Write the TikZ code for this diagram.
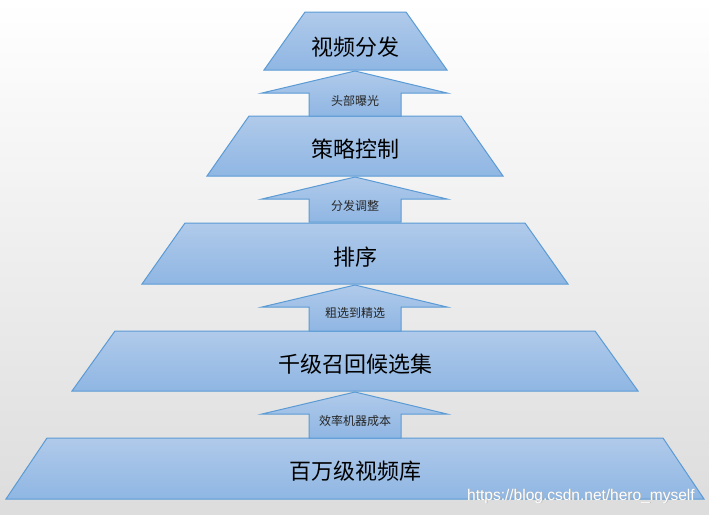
\documentclass[tikz,border=0pt]{standalone}
\usepackage{fontspec}
\newfontfamily\cjk{Noto Sans CJK SC}
\newfontfamily\wmfont{Liberation Sans}
\definecolor{fillTop}{RGB}{176,202,234}
\definecolor{fillBot}{RGB}{143,182,227}
\definecolor{edge}{RGB}{91,155,213}
\begin{document}
\begin{tikzpicture}[x=1pt,y=-1pt,
  shapebox/.style={draw=edge, line width=1pt, line join=miter, top color=fillTop, bottom color=fillBot},
  bigtext/.style={font=\cjk\fontsize{22}{26}\selectfont, text=black, inner sep=0pt},
  smalltext/.style={font=\cjk\fontsize{12}{14}\selectfont, text=black!85, inner sep=0pt},
  wmtext/.style={font=\wmfont\fontsize{15.5}{17}\selectfont, anchor=base west, inner sep=0pt, xscale=1.0}]
\shade[top color=white, bottom color=gray!27] (0,0) rectangle (709,514);
\useasboundingbox (0,0) rectangle (709,514);
% tiers
\path[shapebox] (305,12) -- (406,12) -- (447,70) -- (264,70) -- cycle;
\path[shapebox] (249,116) -- (461,116) -- (503,176) -- (207,176) -- cycle;
\path[shapebox] (185,223) -- (525,223) -- (568,284) -- (142,284) -- cycle;
\path[shapebox] (115,331) -- (595,331) -- (638,391) -- (72,391) -- cycle;
\path[shapebox] (47,438) -- (663,438) -- (704,499) -- (6,499) -- cycle;
% block arrows
\foreach \t/\b in {71/116, 177/222, 285/331, 392/438}{
  \path[shapebox] (355,\t) -- (447,\t+22) -- (401,\t+22) -- (401,\b) -- (309,\b) -- (309,\t+22) -- (262,\t+22) -- cycle;
}
% texts
\node[bigtext] (t1) at (355,47) {视频分发};
\node[bigtext] (t2) at (355,149) {策略控制};
\node[bigtext] (t3) at (355,257) {排序};
\node[bigtext] (t4) at (355,364) {千级召回候选集};
\node[bigtext] (t5) at (355,471) {百万级视频库};
\node[smalltext] (a1) at (355,101) {头部曝光};
\node[smalltext] (a2) at (355,206) {分发调整};
\node[smalltext] (a3) at (355,313) {粗选到精选};
\node[smalltext] (a4) at (355,421) {效率机器成本};
% watermark
\node[wmtext, text=gray!60] (wms) at (467.8,500.8) {https://blog.csdn.net/hero\_myself};
\node[wmtext, text=white] (wm) at (467,500) {https://blog.csdn.net/hero\_myself};
\end{tikzpicture}
\end{document}
